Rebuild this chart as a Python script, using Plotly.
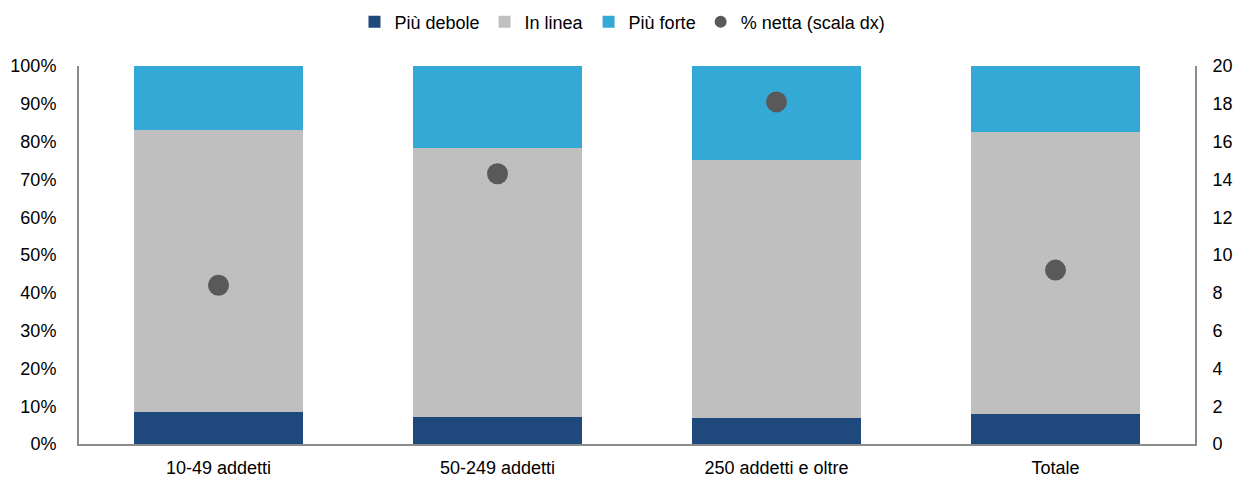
import plotly.graph_objects as go

categories = ["10-49 addetti", "50-249 addetti", "250 addetti e oltre", "Totale"]
piu_debole = [8.5, 7.2, 6.8, 8.0]
in_linea = [74.5, 71.0, 68.3, 74.5]
piu_forte = [17.0, 21.8, 24.9, 17.5]
netta = [8.4, 14.3, 18.1, 9.2]

left_ticks = [0, 10, 20, 30, 40, 50, 60, 70, 80, 90, 100]
left_labels = [f"{v}%" for v in left_ticks]
right_ticks = [0, 2, 4, 6, 8, 10, 12, 14, 16, 18, 20]

FONT = "Liberation Sans, Arial, sans-serif"
AXIS_COLOR = "#8c8c8c"
FS = 18

fig = go.Figure()
fig.add_trace(go.Bar(x=categories, y=piu_debole, name="Più debole", marker=dict(color="#1F497D", line=dict(width=0))))
fig.add_trace(go.Bar(x=categories, y=in_linea, name="In linea", marker=dict(color="#BFBFBF", line=dict(width=0))))
fig.add_trace(go.Bar(x=categories, y=piu_forte, name="Più forte", marker=dict(color="#35A9D6", line=dict(width=0))))
fig.add_trace(go.Scatter(x=categories, y=netta, name="% netta (scala dx)", mode="markers",
                         marker=dict(color="#595959", size=21), yaxis="y2"))

fig.update_layout(
    width=1240, height=479,
    barmode="stack", bargap=0.394,
    plot_bgcolor="white", paper_bgcolor="white",
    font=dict(family=FONT, size=FS, color="#000000"),
    margin=dict(l=79, r=45, t=66, b=35),
    showlegend=True,
    legend=dict(orientation="h", x=0.487, xanchor="center", y=1 - 22 / 479, yanchor="middle",
                yref="container", traceorder="normal", font=dict(size=FS),
                itemsizing="constant", itemwidth=30),
    xaxis=dict(showline=True, linecolor=AXIS_COLOR, linewidth=2, ticks="", showgrid=False,
               tickfont=dict(size=FS), automargin=False, ticklabelstandoff=6),
    yaxis=dict(range=[0, 100], tickvals=left_ticks, ticktext=left_labels, showline=True,
               linecolor=AXIS_COLOR, linewidth=2, showgrid=False, ticks="", zeroline=False,
               tickfont=dict(size=FS), automargin=False, ticklabelstandoff=17),
    yaxis2=dict(range=[0, 20], tickvals=right_ticks, overlaying="y", side="right", showline=True,
                linecolor=AXIS_COLOR, linewidth=2, showgrid=False, ticks="", zeroline=False,
                tickfont=dict(size=FS), automargin=False, ticklabelstandoff=12),
)

fig.write_html("out.html")
